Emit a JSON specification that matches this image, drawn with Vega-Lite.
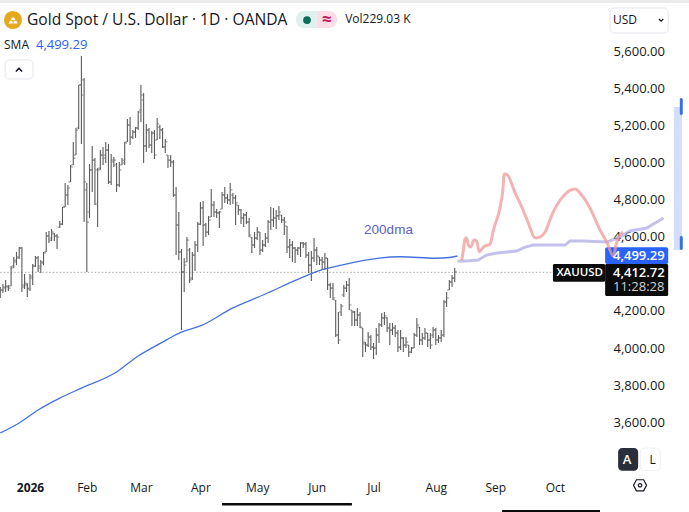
{
  "$schema": "https://vega.github.io/schema/vega-lite/v6.json",
  "width": 689,
  "height": 512,
  "padding": 0,
  "autosize": {"type": "none"},
  "background": "white",
  "view": {"stroke": null},
  "config": {"text": {"font": "Open Sans"}},
  "datasets": {
    "ohlc": [
      {"bar":-11,"open":4286,"high":4329,"low":4270,"close":4313},{"bar":-10,"open":4313,"high":4345,"low":4297,"close":4329},{"bar":-9,"open":4323,"high":4367,"low":4302,"close":4334},{"bar":-8,"open":4329,"high":4340,"low":4307,"close":4323},{"bar":-7,"open":4334,"high":4442,"low":4334,"close":4431},{"bar":-6,"open":4442,"high":4491,"low":4431,"close":4474},{"bar":-5,"open":4464,"high":4518,"low":4447,"close":4485},{"bar":-4,"open":4491,"high":4544,"low":4480,"close":4539},{"bar":-3,"open":4539,"high":4544,"low":4302,"close":4329},{"bar":-2,"open":4340,"high":4399,"low":4318,"close":4350},{"bar":-1,"open":4340,"high":4350,"low":4275,"close":4323},
      {"bar":0,"open":4318,"high":4399,"low":4307,"close":4388},{"bar":1,"open":4377,"high":4453,"low":4340,"close":4442},{"bar":2,"open":4442,"high":4496,"low":4437,"close":4485},{"bar":3,"open":4485,"high":4496,"low":4410,"close":4431},{"bar":4,"open":4442,"high":4474,"low":4404,"close":4464},{"bar":5,"open":4458,"high":4518,"low":4447,"close":4512},{"bar":6,"open":4518,"high":4625,"low":4518,"close":4604},{"bar":7,"open":4604,"high":4631,"low":4566,"close":4582},{"bar":8,"open":4593,"high":4642,"low":4577,"close":4625},{"bar":9,"open":4615,"high":4620,"low":4577,"close":4604},
      {"bar":10,"open":4604,"high":4615,"low":4534,"close":4598},{"bar":11,"open":4652,"high":4685,"low":4647,"close":4668},{"bar":12,"open":4668,"high":4760,"low":4663,"close":4760},{"bar":13,"open":4760,"high":4890,"low":4760,"close":4825},{"bar":14,"open":4825,"high":4879,"low":4771,"close":4863},{"bar":15,"open":4895,"high":4987,"low":4895,"close":4976},{"bar":16,"open":4987,"high":5111,"low":4987,"close":5024},{"bar":17,"open":5040,"high":5186,"low":5040,"close":5175},{"bar":18,"open":5186,"high":5418,"low":5181,"close":5418},{"bar":19,"open":5418,"high":5574,"low":5100,"close":5364},
      {"bar":20,"open":5445,"high":5456,"low":4679,"close":4895},{"bar":21,"open":4852,"high":4890,"low":4410,"close":4679},{"bar":22,"open":4733,"high":4992,"low":4701,"close":4960},{"bar":23,"open":4960,"high":5089,"low":4841,"close":5013},{"bar":24,"open":5013,"high":5024,"low":4771,"close":4776},{"bar":25,"open":4960,"high":4970,"low":4652,"close":4960},{"bar":26,"open":4970,"high":5067,"low":4960,"close":5040},{"bar":27,"open":5040,"high":5084,"low":4987,"close":5024},{"bar":28,"open":5040,"high":5111,"low":4997,"close":5067},{"bar":29,"open":5067,"high":5100,"low":4884,"close":4895},
      {"bar":30,"open":4895,"high":5046,"low":4879,"close":5013},{"bar":31,"open":5003,"high":5030,"low":4976,"close":5013},{"bar":32,"open":4987,"high":4997,"low":4841,"close":4879},{"bar":33,"open":4879,"high":5003,"low":4868,"close":4960},{"bar":34,"open":4987,"high":5024,"low":4987,"close":5013},{"bar":35,"open":4997,"high":5111,"low":4987,"close":5105},{"bar":36,"open":5111,"high":5235,"low":5111,"close":5202},{"bar":37,"open":5202,"high":5245,"low":5094,"close":5137},{"bar":38,"open":5137,"high":5175,"low":5127,"close":5164},{"bar":39,"open":5164,"high":5191,"low":5132,"close":5186},
      {"bar":40,"open":5186,"high":5278,"low":5175,"close":5272},{"bar":41,"open":5283,"high":5418,"low":5218,"close":5364},{"bar":42,"open":5337,"high":5375,"low":4997,"close":5089},{"bar":43,"open":5089,"high":5208,"low":5057,"close":5175},{"bar":44,"open":5175,"high":5186,"low":5078,"close":5094},{"bar":45,"open":5094,"high":5170,"low":5051,"close":5159},{"bar":46,"open":5159,"high":5175,"low":5019,"close":5040},{"bar":47,"open":5121,"high":5240,"low":5121,"close":5208},{"bar":48,"open":5191,"high":5202,"low":5127,"close":5175},{"bar":49,"open":5175,"high":5186,"low":5078,"close":5084},
      {"bar":50,"open":5084,"high":5127,"low":5051,"close":5111},{"bar":51,"open":5040,"high":5040,"low":4970,"close":5013},{"bar":52,"open":5013,"high":5040,"low":4976,"close":5003},{"bar":53,"open":5003,"high":5013,"low":4814,"close":4825},{"bar":54,"open":4825,"high":4868,"low":4501,"close":4663},{"bar":55,"open":4663,"high":4733,"low":4474,"close":4518},{"bar":56,"open":4518,"high":4534,"low":4097,"close":4410},{"bar":57,"open":4410,"high":4485,"low":4302,"close":4447},{"bar":58,"open":4464,"high":4598,"low":4464,"close":4582},{"bar":59,"open":4528,"high":4539,"low":4350,"close":4367},
      {"bar":60,"open":4377,"high":4518,"low":4367,"close":4501},{"bar":61,"open":4501,"high":4577,"low":4415,"close":4555},{"bar":62,"open":4555,"high":4679,"low":4518,"close":4668},{"bar":63,"open":4668,"high":4787,"low":4663,"close":4755},{"bar":64,"open":4755,"high":4792,"low":4550,"close":4663},{"bar":65,"open":4663,"high":4674,"low":4598,"close":4625},{"bar":66,"open":4625,"high":4712,"low":4609,"close":4690},{"bar":67,"open":4706,"high":4857,"low":4706,"close":4771},{"bar":68,"open":4771,"high":4792,"low":4706,"close":4733},{"bar":69,"open":4733,"high":4749,"low":4701,"close":4728},
      {"bar":70,"open":4728,"high":4739,"low":4647,"close":4733},{"bar":71,"open":4749,"high":4841,"low":4749,"close":4825},{"bar":72,"open":4825,"high":4868,"low":4782,"close":4809},{"bar":73,"open":4809,"high":4830,"low":4776,"close":4798},{"bar":74,"open":4798,"high":4890,"low":4771,"close":4852},{"bar":75,"open":4825,"high":4836,"low":4776,"close":4809},{"bar":76,"open":4809,"high":4825,"low":4663,"close":4782},{"bar":77,"open":4771,"high":4771,"low":4717,"close":4744},{"bar":78,"open":4744,"high":4749,"low":4668,"close":4701},{"bar":79,"open":4701,"high":4728,"low":4652,"close":4717},
      {"bar":80,"open":4717,"high":4733,"low":4668,"close":4679},{"bar":81,"open":4679,"high":4701,"low":4598,"close":4609},{"bar":82,"open":4598,"high":4598,"low":4512,"close":4555},{"bar":83,"open":4555,"high":4625,"low":4539,"close":4593},{"bar":84,"open":4593,"high":4652,"low":4582,"close":4625},{"bar":85,"open":4625,"high":4625,"low":4501,"close":4528},{"bar":86,"open":4528,"high":4582,"low":4518,"close":4555},{"bar":87,"open":4555,"high":4620,"low":4544,"close":4593},{"bar":88,"open":4593,"high":4690,"low":4566,"close":4679},{"bar":89,"open":4679,"high":4760,"low":4636,"close":4690},
      {"bar":90,"open":4690,"high":4755,"low":4652,"close":4701},{"bar":91,"open":4701,"high":4744,"low":4642,"close":4712},{"bar":92,"open":4712,"high":4766,"low":4690,"close":4733},{"bar":93,"open":4717,"high":4717,"low":4674,"close":4690},{"bar":94,"open":4690,"high":4706,"low":4609,"close":4679},{"bar":95,"open":4658,"high":4658,"low":4512,"close":4544},{"bar":96,"open":4544,"high":4588,"low":4485,"close":4555},{"bar":97,"open":4555,"high":4577,"low":4464,"close":4539},{"bar":98,"open":4539,"high":4544,"low":4458,"close":4528},{"bar":99,"open":4528,"high":4544,"low":4501,"close":4539},
      {"bar":100,"open":4539,"high":4571,"low":4491,"close":4566},{"bar":101,"open":4566,"high":4571,"low":4539,"close":4561},{"bar":102,"open":4561,"high":4571,"low":4485,"close":4501},{"bar":103,"open":4501,"high":4518,"low":4404,"close":4447},{"bar":104,"open":4447,"high":4523,"low":4361,"close":4485},{"bar":105,"open":4485,"high":4593,"low":4464,"close":4528},{"bar":106,"open":4528,"high":4544,"low":4447,"close":4496},{"bar":107,"open":4491,"high":4491,"low":4447,"close":4474},{"bar":108,"open":4474,"high":4491,"low":4420,"close":4464},{"bar":109,"open":4464,"high":4512,"low":4420,"close":4485},
      {"bar":110,"open":4485,"high":4485,"low":4313,"close":4340},{"bar":111,"open":4340,"high":4350,"low":4270,"close":4323},{"bar":112,"open":4323,"high":4350,"low":4259,"close":4270},{"bar":113,"open":4259,"high":4259,"low":4059,"close":4070},{"bar":114,"open":4070,"high":4194,"low":4022,"close":4043},{"bar":115,"open":4194,"high":4237,"low":4173,"close":4226},{"bar":116,"open":4286,"high":4340,"low":4275,"close":4323},{"bar":117,"open":4323,"high":4361,"low":4302,"close":4340},{"bar":118,"open":4340,"high":4377,"low":4205,"close":4232},{"bar":119,"open":4205,"high":4205,"low":4119,"close":4194},
      {"bar":120,"open":4194,"high":4199,"low":4119,"close":4151},{"bar":121,"open":4151,"high":4216,"low":4119,"close":4178},{"bar":122,"open":4178,"high":4194,"low":4108,"close":4113},{"bar":123,"open":4108,"high":4108,"low":3951,"close":4032},{"bar":124,"open":4022,"high":4032,"low":3978,"close":4016},{"bar":125,"open":4016,"high":4086,"low":4005,"close":4059},{"bar":126,"open":4059,"high":4070,"low":3989,"close":4005},{"bar":127,"open":4005,"high":4027,"low":3941,"close":4000},{"bar":128,"open":4000,"high":4108,"low":3962,"close":4070},{"bar":129,"open":4070,"high":4135,"low":4027,"close":4124},
      {"bar":130,"open":4124,"high":4189,"low":4113,"close":4162},{"bar":131,"open":4162,"high":4194,"low":4124,"close":4173},{"bar":132,"open":4162,"high":4167,"low":4086,"close":4108},{"bar":133,"open":4108,"high":4135,"low":4016,"close":4097},{"bar":134,"open":4097,"high":4135,"low":4070,"close":4108},{"bar":135,"open":4108,"high":4124,"low":4059,"close":4081},{"bar":136,"open":4081,"high":4097,"low":3978,"close":4005},{"bar":137,"open":4005,"high":4097,"low":3989,"close":4054},{"bar":138,"open":4054,"high":4059,"low":3978,"close":4016},{"bar":139,"open":4016,"high":4059,"low":4000,"close":4032},
      {"bar":140,"open":4016,"high":4016,"low":3951,"close":3978},{"bar":141,"open":3978,"high":4005,"low":3973,"close":4000},{"bar":142,"open":4000,"high":4081,"low":4000,"close":4070},{"bar":143,"open":4070,"high":4162,"low":4059,"close":4124},{"bar":144,"open":4113,"high":4113,"low":4016,"close":4043},{"bar":145,"open":4043,"high":4081,"low":4016,"close":4054},{"bar":146,"open":4054,"high":4108,"low":4043,"close":4081},{"bar":147,"open":4081,"high":4081,"low":4005,"close":4043},{"bar":148,"open":4043,"high":4081,"low":3995,"close":4016},{"bar":149,"open":4070,"high":4113,"low":4054,"close":4097},
      {"bar":150,"open":4097,"high":4108,"low":4016,"close":4043},{"bar":151,"open":4043,"high":4070,"low":4027,"close":4054},{"bar":152,"open":4054,"high":4097,"low":4032,"close":4070},{"bar":153,"open":4070,"high":4259,"low":4059,"close":4248},{"bar":154,"open":4248,"high":4302,"low":4221,"close":4270},{"bar":155,"open":4313,"high":4367,"low":4313,"close":4356},{"bar":156,"open":4356,"high":4394,"low":4329,"close":4377},{"bar":157,"open":4377,"high":4431,"low":4356,"close":4410}
    ],
    "sma": [
      {"bar":-11,"price":3542},{"bar":-4,"price":3596},{"bar":3,"price":3666},{"bar":11,"price":3730},{"bar":19,"price":3784},{"bar":32,"price":3871},{"bar":40,"price":3957},{"bar":49,"price":4032},{"bar":53,"price":4065},{"bar":56,"price":4086},{"bar":63,"price":4119},{"bar":75,"price":4216},{"bar":87,"price":4291},{"bar":100,"price":4377},{"bar":109,"price":4426},{"bar":115,"price":4447},{"bar":129,"price":4485},{"bar":137,"price":4492},{"bar":150,"price":4484},{"bar":155,"price":4488},{"bar":158,"price":4496}
    ],
    "sketchPrice": [
      {"bar":159.6,"price":4474},{"bar":160.2,"price":4528},{"bar":160.8,"price":4588},{"bar":161.4,"price":4593},{"bar":162,"price":4555},{"bar":162.9,"price":4544},{"bar":164.1,"price":4582},{"bar":165.1,"price":4577},{"bar":166.1,"price":4518},{"bar":167.6,"price":4544},{"bar":170.1,"price":4561},{"bar":171.3,"price":4636},{"bar":173.8,"price":4760},{"bar":174.8,"price":4852},{"bar":175.3,"price":4938},{"bar":176.5,"price":4933},{"bar":179.3,"price":4836},{"bar":181.8,"price":4760},{"bar":184.2,"price":4674},{"bar":186.7,"price":4593},{"bar":188.5,"price":4598},{"bar":190.4,"price":4625},{"bar":192.9,"price":4717},{"bar":196.6,"price":4809},{"bar":201.5,"price":4857},{"bar":203.9,"price":4825},{"bar":207,"price":4755},{"bar":210.7,"price":4636},{"bar":213.2,"price":4571},{"bar":215.6,"price":4496},{"bar":216.6,"price":4555},{"bar":217.5,"price":4598},{"bar":219.3,"price":4625}
    ],
    "sketchSma": [
      {"bar":158,"price":4469},{"bar":161.4,"price":4469},{"bar":165.7,"price":4474},{"bar":168.8,"price":4501},{"bar":172.5,"price":4512},{"bar":179.9,"price":4523},{"bar":183,"price":4544},{"bar":186,"price":4555},{"bar":192.2,"price":4555},{"bar":197.8,"price":4555},{"bar":199.6,"price":4577},{"bar":204.6,"price":4577},{"bar":213.2,"price":4571},{"bar":218.1,"price":4598},{"bar":221.8,"price":4631},{"bar":228,"price":4647},{"bar":231.7,"price":4679},{"bar":234.2,"price":4701}
    ]
  },
  "data": {"name": "ohlc"},
  "encoding": {
    "x": {
      "field": "bar",
      "type": "quantitative",
      "title": null,
      "scale": {"domain": [-11.09, 243.6], "nice": false, "zero": false}
    }
  },
  "layer": [
    {
      "data": {"values": [{"bar": -11.09, "bar2": 243.6, "price": 5876, "price2": 5860}]},
      "mark": {"type": "rect", "color": "#ebebeb"},
      "encoding": {
        "x": {
          "field": "bar",
          "type": "quantitative",
          "title": null,
          "scale": {"domain": [-11.09, 243.6], "nice": false, "zero": false},
          "axis": {
            "orient": "bottom",
            "offset": -38,
            "domain": false,
            "ticks": false,
            "grid": false,
            "values": [0, 21, 41, 63, 84, 106, 127, 150, 172, 194],
            "labelExpr": "{'0':'2026','21':'Feb','41':'Mar','63':'Apr','84':'May','106':'Jun','127':'Jul','150':'Aug','172':'Sep','194':'Oct'}[datum.value]",
            "labelFont": "Open Sans",
            "labelFontSize": 12,
            "labelColor": "#131722",
            "labelPadding": 8,
            "labelFontWeight": {"condition": {"test": "datum.value === 0", "value": "bold"}, "value": "normal"}
          }
        },
        "x2": {"field": "bar2"},
        "y": {
          "field": "price",
          "type": "quantitative",
          "title": null,
          "scale": {"domain": [3116, 5876], "nice": false, "zero": false},
          "axis": {
            "orient": "right",
            "offset": -84,
            "domain": false,
            "ticks": false,
            "grid": false,
            "values": [3600, 3800, 4000, 4200, 4400, 4600, 4800, 5000, 5200, 5400, 5600],
            "labelExpr": "datum.value === 4400 ? '' : format(datum.value, ',.2f')",
            "labelFont": "Open Sans",
            "labelFontSize": 13,
            "labelColor": "#131722",
            "labelPadding": 8
          }
        },
        "y2": {"field": "price2"}
      }
    },
    {
      "data": {"values": [{"bar": -11, "bar2": 193.3, "price": 4408}]},
      "mark": {"type": "rule", "color": "#a8a8a8", "strokeWidth": 1, "strokeDash": [1.5, 2]},
      "encoding": {
        "x2": {"field": "bar2"},
        "y": {"field": "price", "type": "quantitative", "title": null}
      }
    },
    {
      "mark": {"type": "rule", "color": "#5a5a5a", "strokeWidth": 1.1},
      "encoding": {
        "y": {"field": "high", "type": "quantitative", "title": null},
        "y2": {"field": "low"}
      }
    },
    {
      "mark": {"type": "tick", "orient": "horizontal", "size": 2, "thickness": 1, "color": "#555555", "xOffset": -1.2},
      "encoding": {"y": {"field": "open", "type": "quantitative", "title": null}}
    },
    {
      "mark": {"type": "tick", "orient": "horizontal", "size": 2, "thickness": 1, "color": "#555555", "xOffset": 1.2},
      "encoding": {"y": {"field": "close", "type": "quantitative", "title": null}}
    },
    {
      "data": {"name": "sma"},
      "mark": {"type": "line", "color": "#4472dd", "strokeWidth": 1.3, "interpolate": "monotone"},
      "encoding": {"y": {"field": "price", "type": "quantitative", "title": null}}
    },
    {
      "data": {"values": [{"bar": 212.6, "bar2": 235.9, "price": 4543, "price2": 4453}]},
      "mark": {"type": "rect", "color": "#2962ff", "cornerRadius": 2},
      "encoding": {
        "x2": {"field": "bar2"},
        "y": {"field": "price", "type": "quantitative", "title": null},
        "y2": {"field": "price2"}
      }
    },
    {
      "data": {"values": [
        {"bar": 212.6, "bar2": 235.9, "price": 4453, "price2": 4280},
        {"bar": 193.3, "bar2": 212.6, "price": 4453, "price2": 4357}
      ]},
      "mark": {"type": "rect", "color": "#0b0b0b", "cornerRadius": 1.5},
      "encoding": {
        "x2": {"field": "bar2"},
        "y": {"field": "price", "type": "quantitative", "title": null},
        "y2": {"field": "price2"}
      }
    },
    {
      "data": {"values": [{"bar": 238, "bar2": 241, "price": 5299, "price2": 4528}]},
      "mark": {"type": "rect", "color": "#d3def9"},
      "encoding": {
        "x2": {"field": "bar2"},
        "y": {"field": "price", "type": "quantitative", "title": null},
        "y2": {"field": "price2"}
      }
    },
    {
      "data": {"values": [
        {"bar": 240.2, "bar2": 241.3, "price": 5348, "price2": 5256},
        {"bar": 240.2, "bar2": 241.3, "price": 4604, "price2": 4528}
      ]},
      "mark": {"type": "rect", "color": "#3b6fe8", "cornerRadius": 1.5},
      "encoding": {
        "x2": {"field": "bar2"},
        "y": {"field": "price", "type": "quantitative", "title": null},
        "y2": {"field": "price2"}
      }
    },
    {
      "data": {"name": "sketchSma"},
      "mark": {"type": "line", "color": "#a9a6e2", "strokeWidth": 3, "opacity": 0.7},
      "encoding": {"y": {"field": "price", "type": "quantitative", "title": null}}
    },
    {
      "data": {"name": "sketchPrice"},
      "mark": {"type": "line", "color": "#ef9a9a", "strokeWidth": 3, "opacity": 0.75, "interpolate": "monotone"},
      "encoding": {"y": {"field": "price", "type": "quantitative", "title": null}}
    },
    {
      "data": {"values": [{"bar": 98.3, "bar2": 106, "price": 5817, "price2": 5725}]},
      "mark": {"type": "rect", "color": "#dff1ee", "cornerRadiusTopLeft": 8, "cornerRadiusBottomLeft": 8},
      "encoding": {
        "x2": {"field": "bar2"},
        "y": {"field": "price", "type": "quantitative", "title": null},
        "y2": {"field": "price2"}
      }
    },
    {
      "data": {"values": [{"bar": 106, "bar2": 113.5, "price": 5817, "price2": 5725}]},
      "mark": {"type": "rect", "color": "#fbdde8", "cornerRadiusTopRight": 8, "cornerRadiusBottomRight": 8},
      "encoding": {
        "x2": {"field": "bar2"},
        "y": {"field": "price", "type": "quantitative", "title": null},
        "y2": {"field": "price2"}
      }
    },
    {
      "data": {"values": [{"bar": 102.4, "price": 5768}]},
      "mark": {"type": "point", "filled": true, "size": 60, "color": "#0a6e5d", "opacity": 1},
      "encoding": {"y": {"field": "price", "type": "quantitative", "title": null}}
    },
    {
      "data": {"values": [{"bar": -6.3, "price": 5768}]},
      "mark": {"type": "point", "filled": true, "size": 330, "color": "#e5a91d", "opacity": 1},
      "encoding": {"y": {"field": "price", "type": "quantitative", "title": null}}
    },
    {
      "data": {"values": [{"bar": -6.3, "price": 5768}]},
      "mark": {"type": "point", "filled": true, "size": 100, "color": "white", "opacity": 1, "shape": "M-0.9 0.7 L-0.6 0.15 L-0.15 0.15 L0 0.7 Z M0.05 0.7 L0.2 0.15 L0.65 0.15 L0.95 0.7 Z M-0.4 0 L-0.2 -0.5 L0.25 -0.5 L0.45 0 Z"},
      "encoding": {"y": {"field": "price", "type": "quantitative", "title": null}}
    },
    {
      "data": {"values": [{"bar": -9.2, "bar2": 1.1, "price": 5553, "price2": 5450}, {"bar": 214.4, "bar2": 235.9, "price": 5833, "price2": 5698}]},
      "mark": {"type": "rect", "fill": "white", "stroke": "#e4e6ec", "strokeWidth": 1, "cornerRadius": 4},
      "encoding": {
        "x2": {"field": "bar2"},
        "y": {"field": "price", "type": "quantitative", "title": null},
        "y2": {"field": "price2"}
      }
    },
    {
      "data": {"values": [{"bar": -4.07, "price": 5499}]},
      "mark": {"type": "point", "size": 40, "color": "#131722", "strokeWidth": 1.5, "opacity": 1, "shape": "M-1 0.5 L0 -0.5 L1 0.5"},
      "encoding": {"y": {"field": "price", "type": "quantitative", "title": null}}
    },
    {
      "data": {"values": [{"bar": 233.3, "price": 5768}]},
      "mark": {"type": "point", "size": 18, "color": "#131722", "strokeWidth": 1.3, "opacity": 1, "shape": "M-1 -0.5 L0 0.5 L1 -0.5"},
      "encoding": {"y": {"field": "price", "type": "quantitative", "title": null}}
    },
    {
      "data": {"values": [{"bar": 217.4, "bar2": 224.8, "price": 3461, "price2": 3339}]},
      "mark": {"type": "rect", "color": "#2a2e39", "cornerRadius": 4},
      "encoding": {
        "x2": {"field": "bar2"},
        "y": {"field": "price", "type": "quantitative", "title": null},
        "y2": {"field": "price2"}
      }
    },
    {
      "data": {"values": [{"bar": 225.6, "bar2": 233, "price": 3461, "price2": 3339}]},
      "mark": {"type": "rect", "fill": "white", "stroke": "#f0f1f4", "cornerRadius": 4},
      "encoding": {
        "x2": {"field": "bar2"},
        "y": {"field": "price", "type": "quantitative", "title": null},
        "y2": {"field": "price2"}
      }
    },
    {
      "data": {"values": [{"bar": 71, "bar2": 119, "price": 3164, "price2": 3151}, {"bar": 174.5, "bar2": 210.7, "price": 3127, "price2": 3116}]},
      "mark": {"type": "rect", "color": "#0b0b0b"},
      "encoding": {
        "x2": {"field": "bar2"},
        "y": {"field": "price", "type": "quantitative", "title": null},
        "y2": {"field": "price2"}
      }
    },
    {
      "data": {"values": [{"bar": 225.5, "price": 3260}]},
      "mark": {"type": "point", "size": 170, "color": "#131722", "strokeWidth": 1.2, "opacity": 1, "shape": "M-1 0 L-0.55 -0.85 L0.55 -0.85 L1 0 L0.55 0.85 L-0.55 0.85 Z"},
      "encoding": {"y": {"field": "price", "type": "quantitative", "title": null}}
    },
    {
      "data": {"values": [{"bar": 225.5, "price": 3260}]},
      "mark": {"type": "point", "shape": "circle", "size": 12, "color": "#131722", "strokeWidth": 1.2, "opacity": 1},
      "encoding": {"y": {"field": "price", "type": "quantitative", "title": null}}
    },
    {
      "data": {"values": [{"bar": -1.1, "price": 5768, "label": "Gold Spot / U.S. Dollar · 1D · OANDA"}]},
      "mark": {"type": "text", "align": "left", "baseline": "middle", "fontSize": 15.6, "color": "#131722"},
      "encoding": {
        "y": {"field": "price", "type": "quantitative", "title": null},
        "text": {"field": "label"}
      }
    },
    {
      "data": {"values": [
        {"bar": 116.5, "price": 5774, "label": "Vol229.03 K"},
        {"bar": -9.6, "price": 5633, "label": "SMA"},
        {"bar": 215.5, "price": 5768, "label": "USD"},
        {"bar": 229, "price": 3396, "label": "L"}
      ]},
      "mark": {"type": "text", "align": "left", "baseline": "middle", "fontSize": 12, "color": "#131722"},
      "encoding": {
        "y": {"field": "price", "type": "quantitative", "title": null},
        "text": {"field": "label"}
      }
    },
    {
      "data": {"values": [{"bar": 2.2, "price": 5633, "label": "4,499.29"}]},
      "mark": {"type": "text", "align": "left", "baseline": "middle", "fontSize": 13, "color": "#2962ff"},
      "encoding": {
        "y": {"field": "price", "type": "quantitative", "title": null},
        "text": {"field": "label"}
      }
    },
    {
      "data": {"values": [{"bar": 123.5, "price": 4636, "label": "200dma"}]},
      "mark": {"type": "text", "align": "left", "baseline": "middle", "font": "Liberation Sans", "fontSize": 13.5, "color": "#5a5fc4"},
      "encoding": {
        "y": {"field": "price", "type": "quantitative", "title": null},
        "text": {"field": "label"}
      }
    },
    {
      "data": {"values": [{"bar": 109.7, "price": 5768, "label": "≈"}]},
      "mark": {"type": "text", "align": "center", "baseline": "middle", "fontSize": 17, "fontWeight": "bold", "color": "#c2185b"},
      "encoding": {
        "y": {"field": "price", "type": "quantitative", "title": null},
        "text": {"field": "label"}
      }
    },
    {
      "data": {"values": [
        {"bar": 215.5, "price": 4496, "label": "4,499.29"},
        {"bar": 215.5, "price": 4404, "label": "4,412.72"}
      ]},
      "mark": {"type": "text", "align": "left", "baseline": "middle", "fontSize": 13, "fontWeight": 600, "color": "white"},
      "encoding": {
        "y": {"field": "price", "type": "quantitative", "title": null},
        "text": {"field": "label"}
      }
    },
    {
      "data": {"values": [{"bar": 215.5, "price": 4329, "label": "11:28:28"}]},
      "mark": {"type": "text", "align": "left", "baseline": "middle", "fontSize": 13, "color": "#cfcfcf"},
      "encoding": {
        "y": {"field": "price", "type": "quantitative", "title": null},
        "text": {"field": "label"}
      }
    },
    {
      "data": {"values": [{"bar": 194.6, "price": 4404, "label": "XAUUSD"}]},
      "mark": {"type": "text", "align": "left", "baseline": "middle", "fontSize": 11.5, "fontWeight": 600, "color": "white"},
      "encoding": {
        "y": {"field": "price", "type": "quantitative", "title": null},
        "text": {"field": "label"}
      }
    },
    {
      "data": {"values": [{"bar": 220.7, "price": 3396, "label": "A"}]},
      "mark": {"type": "text", "align": "center", "baseline": "middle", "fontSize": 13, "fontWeight": 600, "color": "white"},
      "encoding": {
        "y": {"field": "price", "type": "quantitative", "title": null},
        "text": {"field": "label"}
      }
    }
  ]
}
